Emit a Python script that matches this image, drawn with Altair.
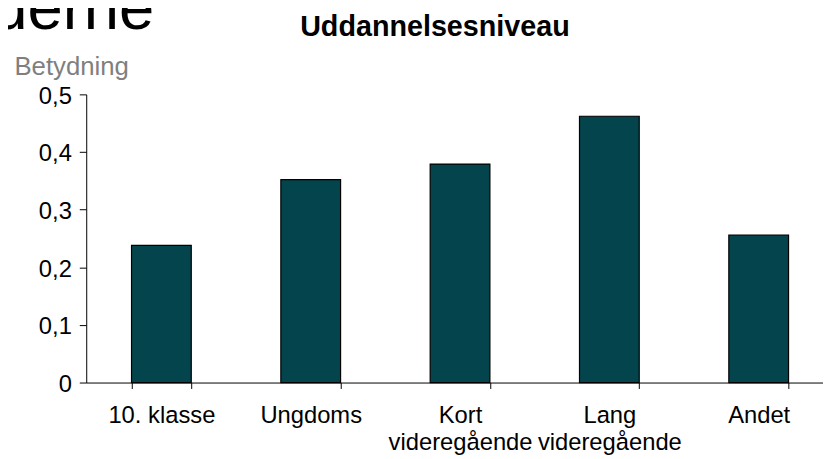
import altair as alt
import pandas as pd

categories = ["10. klasse", "Ungdoms", "Kort\nvideregående", "Lang\nvideregående", "Andet"]
values = [0.238, 0.352, 0.379, 0.462, 0.256]
y_ticks = [0, 0.1, 0.2, 0.3, 0.4, 0.5]
title_text = ["Uddannelsesniveau"]
y_title = "Betydning"
cut_heading = ["derne"]

FONT = "Liberation Sans"

df = pd.DataFrame({"kategori": categories, "betydning": values})

bars = alt.Chart(df).mark_bar(color="#04444C", stroke="black", strokeWidth=1.2).encode(
    x=alt.X(
        "kategori:N",
        sort=categories,
        scale=alt.Scale(paddingInner=0.6, paddingOuter=0.267, align=0.568),
        axis=alt.Axis(
            title=None, labelAngle=0, labelFont=FONT, labelFontSize=24, labelColor="black",
            labelBaseline="alphabetic", labelPadding=34, labelLineHeight=28,
            labelExpr="split(datum.label, '\\n')", labelOverlap=False, labelLimit=0,
            tickBand="extent", tickSize=6, tickColor="black", tickWidth=1,
            domainColor="black", domainWidth=1,
        ),
    ),
    y=alt.Y(
        "betydning:Q",
        scale=alt.Scale(domain=[0, 0.5], nice=False),
        axis=alt.Axis(
            values=y_ticks, grid=False,
            labelExpr="datum.value == 0 ? '0' : replace(format(datum.value, '.1f'), '.', ',')",
            labelFont=FONT, labelFontSize=24, labelColor="black", labelPadding=8, labelOffset=2,
            tickSize=7, tickColor="black", tickWidth=1, domainColor="black", domainWidth=1,
            title=y_title, titleAngle=0, titleAlign="left", titleBaseline="alphabetic",
            titleX=-73, titleY=-20, titleFont=FONT, titleFontSize=26, titleFontWeight="normal",
            titleColor="#7f7f7f",
        ),
    ),
)

title = alt.Chart(pd.DataFrame({"t": title_text})).mark_text(
    font=FONT, fontSize=29, fontWeight="bold", align="left", baseline="alphabetic", color="black"
).encode(x=alt.value(216), y=alt.value(-59), text="t:N")

heading = alt.Chart(pd.DataFrame({"t": cut_heading})).mark_text(
    font=FONT, fontSize=64, align="left", baseline="alphabetic", color="black"
).encode(x=alt.value(-95), y=alt.value(-66.5), text="t:N")

chart = alt.layer(bars, title, heading).properties(
    width=744,
    height=291,
    autosize=alt.AutoSizeParams(type="none"),
    padding={"left": 79, "top": 85, "right": 0, "bottom": 75},
    background="white",
).configure_view(stroke=None)

chart.save("out.html", embed_options={"renderer": "svg", "actions": False})
